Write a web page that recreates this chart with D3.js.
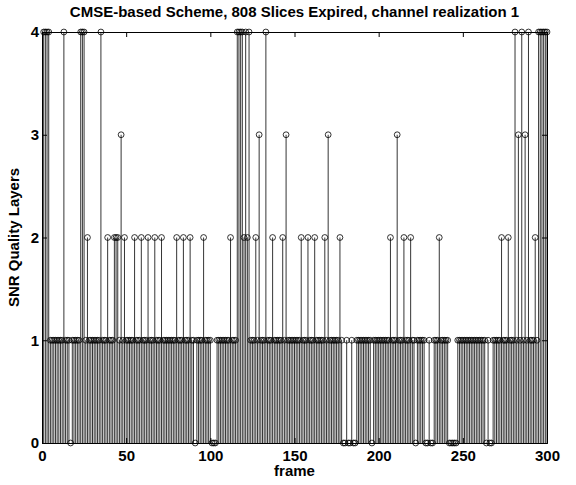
<!DOCTYPE html>
<html><head><meta charset="utf-8">
<script src="https://cdn.jsdelivr.net/npm/d3@7/dist/d3.min.js"></script>
<style>body{margin:0;background:#fff}svg{display:block}text{font-family:Arial,"Liberation Sans",sans-serif;font-weight:bold}</style>
</head><body>
<svg id="c" width="576" height="485"></svg>
<script>
const title = "CMSE-based Scheme, 808 Slices Expired, channel realization 1";
const xLabel = "frame";
const yLabel = "SNR Quality Layers";
const xTicks = [0, 50, 100, 150, 200, 250, 300];
const yTicks = [0, 1, 2, 3, 4];
const frames = d3.range(1, 301);
const layers = [
  4,4,4,4,1,1,1,1,1,1,
  1,1,4,1,1,1,0,1,1,1,
  1,1,4,4,4,1,2,1,1,1,
  1,1,1,1,4,1,1,1,2,1,
  1,1,2,2,2,1,3,1,2,1,
  1,1,1,1,2,1,1,1,2,1,
  1,1,2,1,1,1,2,1,1,1,
  2,1,1,1,1,1,1,1,1,2,
  1,1,1,2,1,1,1,2,1,1,
  0,1,1,1,1,2,1,1,1,1,
  0,0,0,1,1,1,1,1,1,1,
  1,2,1,1,1,4,4,4,4,2,
  4,2,4,1,1,1,2,1,3,1,
  1,1,4,1,1,1,2,1,1,1,
  1,1,2,1,3,1,1,1,1,1,
  1,1,1,2,1,1,1,2,1,1,
  1,2,1,1,1,1,1,2,1,3,
  1,1,1,1,1,1,2,1,0,0,
  1,0,0,1,0,0,1,1,1,1,
  1,1,1,1,1,0,1,1,1,1,
  1,1,1,1,1,1,2,1,1,1,
  3,1,1,1,2,1,1,1,2,1,
  1,0,1,1,1,1,1,0,0,1,
  0,0,1,1,1,2,1,1,1,1,
  1,0,0,0,0,0,1,1,1,1,
  1,1,1,1,1,1,1,1,1,1,
  1,1,1,0,1,0,0,1,1,1,
  1,1,2,1,1,1,2,1,1,1,
  4,1,3,1,4,1,3,1,4,1,
  1,1,2,1,4,4,4,4,4,4
];

const L = 42, R = 547, T = 32, B = 443;
const FS = "15px";
const svg = d3.select("#c");
const x = d3.scaleLinear().domain([0, 300]).range([L, R]);
const y = d3.scaleLinear().domain([0, 4]).range([B, T]);

const data = frames.map((f, i) => ({f, v: layers[i]}));

// stems
svg.append("g").selectAll("line").data(data).join("line")
  .attr("x1", d => x(d.f)).attr("x2", d => x(d.f))
  .attr("y1", y(0)).attr("y2", d => y(d.v))
  .attr("stroke", "#000").attr("stroke-width", 0.8);

// markers
svg.append("g").selectAll("circle").data(data).join("circle")
  .attr("cx", d => x(d.f)).attr("cy", d => y(d.v)).attr("r", 2.9)
  .attr("fill", "none").attr("stroke", "#000").attr("stroke-width", 0.8);

// axes (MATLAB-style, inward ticks, box)
const tl = 5;
const gb = svg.append("g").attr("transform", `translate(0,${B})`)
  .call(d3.axisBottom(x).tickValues(xTicks).tickSize(-tl).tickPadding(7).tickFormat(d3.format("d")));
const gt = svg.append("g").attr("transform", `translate(0,${T})`)
  .call(d3.axisTop(x).tickValues(xTicks).tickSize(-tl).tickFormat(""));
const gl = svg.append("g").attr("transform", `translate(${L},0)`)
  .call(d3.axisLeft(y).tickValues(yTicks).tickSize(-tl).tickPadding(3).tickFormat(d3.format("d")));
const gr = svg.append("g").attr("transform", `translate(${R},0)`)
  .call(d3.axisRight(y).tickValues(yTicks).tickSize(-tl).tickFormat(""));
[gb, gt, gl, gr].forEach(g => {
  g.select(".domain").attr("stroke", "#000").attr("stroke-width", 1);
  g.selectAll(".tick line").attr("stroke", "#000");
  g.selectAll("text").attr("fill", "#000").style("font-size", FS).style("font-weight", "bold")
    .style("font-family", "Arial, 'Liberation Sans', sans-serif");
});

svg.append("text").attr("x", (L + R) / 2).attr("y", 17).attr("text-anchor", "middle")
  .style("font-size", FS).text(title);
svg.append("text").attr("x", (L + R) / 2).attr("y", 476).attr("text-anchor", "middle")
  .style("font-size", FS).text(xLabel);
svg.append("text").attr("transform", `translate(19,${(T + B) / 2}) rotate(-90)`)
  .attr("text-anchor", "middle").style("font-size", FS).text(yLabel);
</script>
</body></html>
